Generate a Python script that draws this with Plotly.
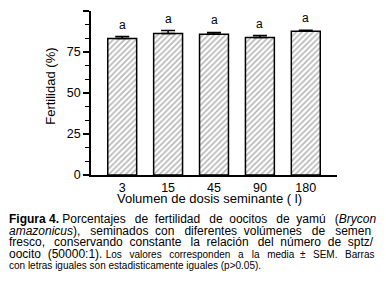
import plotly.graph_objects as go

categories = ["3", "15", "45", "90", "180"]
fertility = [83.2, 86.3, 85.8, 83.8, 87.7]
sem = [1.2, 1.8, 1.1, 1.2, 0.6]
letters = ["a", "a", "a", "a", "a"]
y_ticks = [0, 25, 50, 75, 100]

FONT = "Liberation Sans, Arial, sans-serif"
OFF = 8  # page body margin
W, H = 386 - OFF, 298 - OFF
L, R, T, B = 91 - OFF, 49, 10.5 - OFF, 123
PW, PH = W - L - R, H - T - B

def px_x(x):
    return (x - OFF - L) / PW

def px_y(y):
    return 1 - (y - OFF - T) / PH

fig = go.Figure()
fig.add_trace(go.Bar(
    x=list(range(len(categories))), y=fertility, width=0.63,
    marker=dict(color="white", line=dict(color="black", width=1.5),
                pattern=dict(shape="/", fgcolor="#6e6e6e", bgcolor="white", size=4, solidity=0.4)),
    error_y=dict(type="data", symmetric=False, array=sem, arrayminus=[0]*len(sem),
                 color="black", thickness=1.5, width=7),
    showlegend=False,
))

for i, (v, s, l) in enumerate(zip(fertility, sem, letters)):
    fig.add_annotation(x=i, y=v + s, text=l, showarrow=False, yanchor="bottom", yshift=3,
                       font=dict(size=12, color="black", family=FONT))

NB = "\u00a0"
TH = "\u2009"
caption_lines = [
    f"<b>Figura 4.</b> Porcentajes{NB}{TH} de{NB} fertilidad{NB}{TH} de{NB} oocitos{NB}{TH} de{NB} yamú{NB}{TH} (<i>Brycon</i>",
    f"<i>amazonicus</i>),{NB}{NB} seminados{NB} con{NB}{NB} diferentes{NB} volúmenes{NB}{NB} de{NB}{NB} semen",
    f"fresco,{NB}{TH} conservando{NB} constante{NB}{TH} la{NB} relación{NB}{TH} del{NB} número{NB} de{NB} sptz/",
    f"oocito{NB} (50000:1). <span style=\"font-size:10px\">Los{NB}{TH} valores{NB}{TH} corresponden{NB}{TH} a{NB}{NB} la{NB}{TH} media{NB} ±{NB}{TH} SEM.{NB}{TH} Barras</span>",
    "<span style=\"font-size:10px\">con letras iguales son estadisticamente iguales (p&gt;0.05).</span>",
]
caption_y = [219.5, 231, 242.5, 254, 266]
for t, yy in zip(caption_lines, caption_y):
    fig.add_annotation(xref="paper", yref="paper", x=px_x(7), y=px_y(yy),
                       xanchor="left", yanchor="middle", text=t, showarrow=False, align="left",
                       font=dict(size=12, color="black", family=FONT))

# axis titles
fig.add_annotation(xref="paper", yref="paper", x=px_x(209.5), y=px_y(199), text="Volumen de dosis seminante ( l)",
                   showarrow=False, xanchor="center", yanchor="middle", font=dict(size=13, family=FONT, color="black"))
fig.add_annotation(xref="paper", yref="paper", x=px_x(50.5), y=px_y(86), text="Fertilidad (%)", textangle=-90,
                   showarrow=False, xanchor="center", yanchor="middle", font=dict(size=13, family=FONT, color="black"))

fig.update_layout(
    width=W, height=H,
    margin=dict(l=L, r=R, t=T, b=B, autoexpand=False),
    paper_bgcolor="white", plot_bgcolor="white",
    font=dict(family=FONT, color="black", size=12),
    xaxis=dict(range=[-0.68, 4.68], showline=True, linecolor="black", linewidth=1.5,
               tickvals=list(range(len(categories))), ticktext=categories,
               ticks="", tickfont=dict(size=12.5), automargin=False, showgrid=False, zeroline=False,
               ticklabelstandoff=0),
    yaxis=dict(range=[0, 100], showline=True, linecolor="black", linewidth=1.5,
               tickvals=y_ticks, ticks="outside", ticklen=6, tickwidth=1.5, tickcolor="black",
               tickfont=dict(size=12.5), showgrid=False, zeroline=False, automargin=False,
               minor=dict(dtick=25/3, tick0=0, ticks="outside", ticklen=4, tickwidth=1, tickcolor="black", showgrid=False)),
)

fig.write_html("out.html")
